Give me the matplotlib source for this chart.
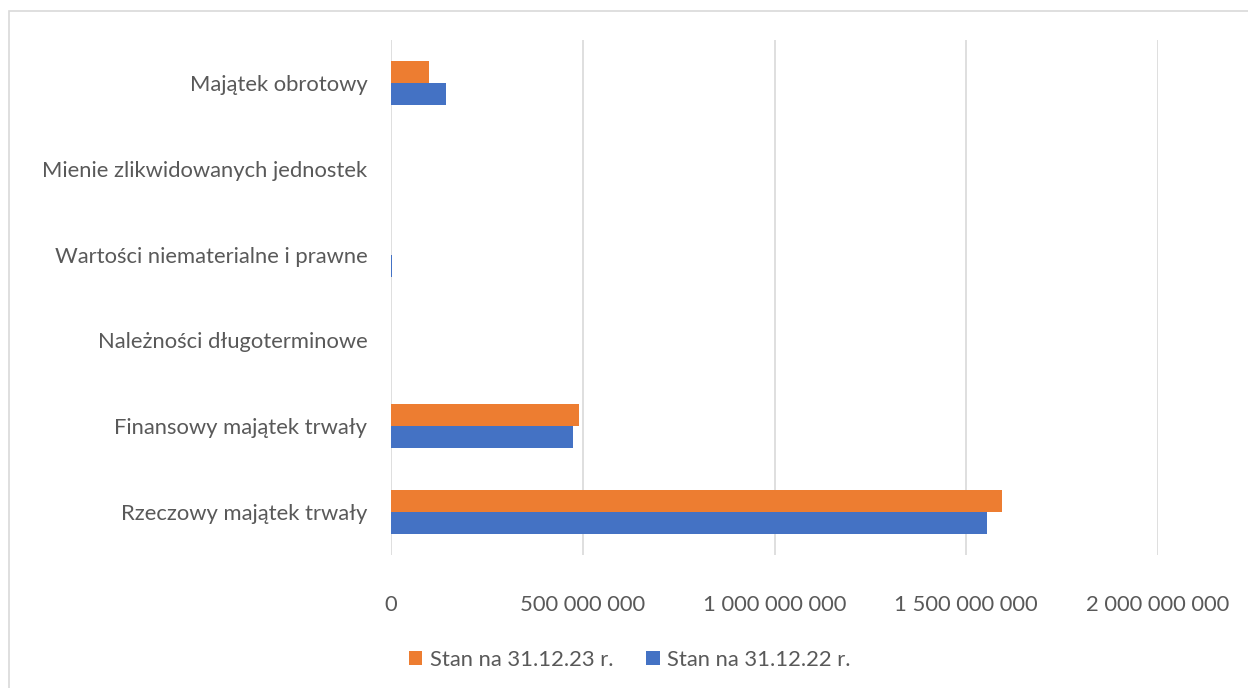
import matplotlib.pyplot as plt
from matplotlib.patches import Rectangle
from matplotlib.ticker import FuncFormatter
import numpy as np

# categories from bottom to top
categories = [
    "Rzeczowy majątek trwały",
    "Finansowy majątek trwały",
    "Należności długoterminowe",
    "Wartości niematerialne i prawne",
    "Mienie zlikwidowanych jednostek",
    "Majątek obrotowy",
]
stan_2022 = [1555e6, 475e6, 0, 1.5e6, 0, 144e6]
stan_2023 = [1594e6, 491e6, 0, 0.3e6, 0, 98e6]
x_ticks = [0, 500e6, 1000e6, 1500e6, 2000e6]

plt.rcParams['font.family'] = ['Lato', 'DejaVu Sans']

fig = plt.figure(figsize=(12.48, 6.88), dpi=100)
ax = fig.add_axes([391 / 1248, 1 - 555 / 688, (1158 - 391) / 1248, (555 - 40) / 688])

# chart border (Excel style)
fig.patches.append(Rectangle((9 / 1248, -0.01), 1.2, 1 - 11 / 688 + 0.01,
                             transform=fig.transFigure, fill=False,
                             edgecolor='#d9d9d9', linewidth=1.2))

y = np.arange(len(categories))
h = 0.257
ax.barh(y - h / 2, stan_2022, height=h, color='#4472C4', label='Stan na 31.12.22 r.', zorder=3)
ax.barh(y + h / 2, stan_2023, height=h, color='#ED7D31', label='Stan na 31.12.23 r.', zorder=3)

ax.set_xlim(0, 2000e6)
ax.set_ylim(-0.5, len(categories) - 0.5)
ax.set_xticks(x_ticks)
ax.xaxis.set_major_formatter(FuncFormatter(lambda v, p: f"{int(v):,}".replace(",", " ")))
ax.set_yticks(y)
ax.set_yticklabels(categories)
ax.grid(axis='x', color='#d9d9d9', linewidth=1.2, zorder=0)
for s in ax.spines.values():
    s.set_visible(False)
ax.tick_params(axis='x', length=0, pad=29, labelsize=15.8, labelcolor='#595959')
ax.tick_params(axis='y', length=0, pad=17, labelsize=15.8, labelcolor='#595959')

handles, labels = ax.get_legend_handles_labels()
fig.legend(handles[::-1], labels[::-1], loc='center', bbox_to_anchor=(630 / 1248, 1 - 660 / 688),
           ncol=2, frameon=False, fontsize=15.8, labelcolor='#595959',
           handlelength=0.6, handleheight=0.6, handletextpad=0.35, columnspacing=1.5)

fig.savefig('out.png', dpi=100, facecolor='white')
